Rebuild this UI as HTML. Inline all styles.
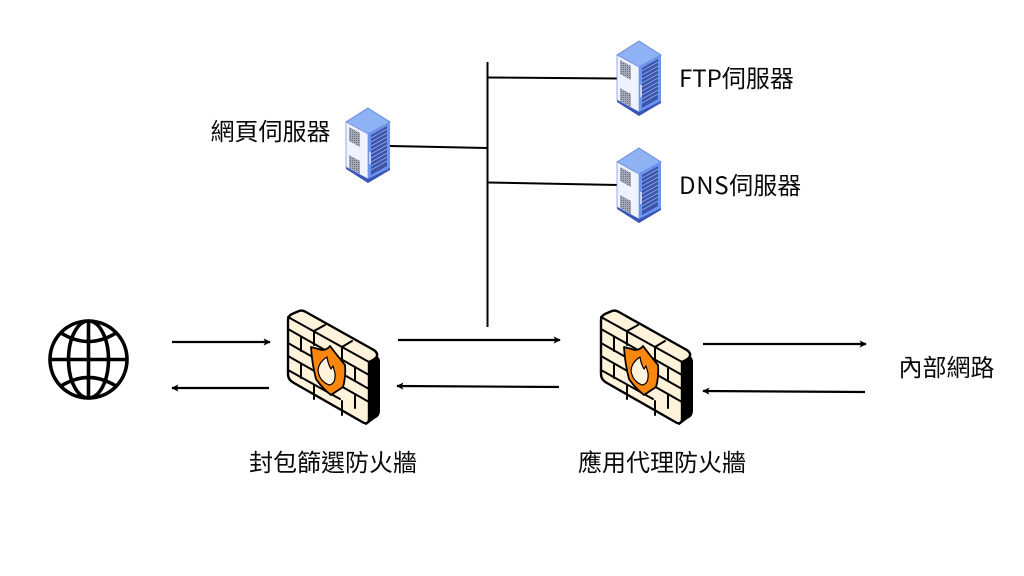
<!DOCTYPE html>
<html lang="zh-Hant">
<head>
<meta charset="utf-8">
<style>
html,body{margin:0;padding:0;background:#fff}
body{width:1024px;height:576px;overflow:hidden}
svg{display:block}
text{font-family:"Noto Sans CJK TC","Liberation Sans",sans-serif;font-size:24px;fill:#0a0a0a}
</style>
</head>
<body>
<svg width="1024" height="576" viewBox="0 0 1024 576" xmlns="http://www.w3.org/2000/svg">
<defs>
<pattern id="vent" width="2" height="2" patternUnits="userSpaceOnUse">
<rect width="2" height="2" fill="#a6a9b8"/><rect width="1" height="1" fill="#6a6e80"/>
</pattern>
<g id="server">
<polygon points="0,0 22,14 22,61 0,75 -22,59 -22,14" fill="#4d6dd0"/>
<polygon points="0,0 22,14 0,26 -22,14" fill="#8fb2f4" stroke="#6a8ade" stroke-width="1"/>
<polygon points="-22,14 0,26 0,71 -22,59" fill="#f0f3fd" stroke="#7f9be4" stroke-width="0.8"/>
<polygon points="-19,19 -8,25 -8,39 -19,33" fill="url(#vent)"/>
<polygon points="-19,47 -8,53 -8,66 -19,60" fill="url(#vent)"/>
<polygon points="0,26 22,14 22,60 0,72" fill="#6f94ec"/>
<polygon points="3,27 19,18 19,58 3,67" fill="#3b55ad"/>
<g stroke="#93acec" stroke-width="0.8">
<line x1="3" y1="30" x2="19" y2="21"/><line x1="3" y1="34" x2="19" y2="25"/>
<line x1="3" y1="38" x2="19" y2="29"/><line x1="3" y1="42" x2="19" y2="33"/>
<line x1="3" y1="46" x2="19" y2="37"/><line x1="3" y1="50" x2="19" y2="41"/>
<line x1="3" y1="54" x2="19" y2="45"/><line x1="3" y1="58" x2="19" y2="49"/>
<line x1="3" y1="62" x2="19" y2="53"/>
</g>
<line x1="2" y1="44" x2="2" y2="56" stroke="#e4eafb" stroke-width="1.4"/>
<polygon points="-22,59 0,71 22,60 22,62 0,75 -22,61" fill="#3a55b8"/>
</g>
<g id="wall" stroke-linejoin="round" stroke-linecap="round">
<path d="M367,362 L374,358 Q379,356 379,362 L379,411 Q379,416 374,418 L366,424 Z" fill="#000" stroke="#000" stroke-width="2"/>
<path d="M288,320 Q288,316 292,314 L299,311 Q302,310 305,311.500 L372,349 Q378,352 377,356 Q376,359 369,362 L369,419 Q369,424 364,423 L294,383 Q288,380 288,374 Z" fill="#fff3dc" stroke="#000" stroke-width="2.400"/>
<g fill="none" stroke="#000" stroke-width="2">
<path d="M288,317 L369,362"/>
<path d="M288,329 L369,375 M288,343 L369,389 M288,356 L369,402 M288,370 L340,399"/>
<path d="M314,331 L325,325 M342,347 L352,341"/>
<path d="M314,332 L314,345 M342,347 L342,360"/>
<path d="M301,337 L301,351 M355,367 L355,381"/>
<path d="M355,394 L355,408"/>
<path d="M301,364 L301,378"/>
<path d="M314,385 L314,399 M342,401 L342,415"/>
</g>
<path d="M311,347 L322,350 Q327,350 330,346 Q336,354 345,365 Q346,377 343,387 L331,395 Q322,388 316,379 Q312,364 311,347 Z" fill="#f9860f" stroke="#000" stroke-width="1.800"/>
<path d="M327,357 Q319,362 318,370 Q319,381 329,385 Q336,384 335,373 L333,366 L331,369 Q328,364 327,357 Z" fill="#fff3dc" stroke="#000" stroke-width="1.200"/>
</g>
<marker id="ah" viewBox="0 0 10 10" refX="9" refY="5" markerWidth="8" markerHeight="8" markerUnits="userSpaceOnUse" orient="auto"><path d="M1,0.500 L10,5 L1,9.500 L3,5 Z" fill="#000"/></marker>
</defs>

<g fill="none" stroke="#000" stroke-width="3.600">
<circle cx="88.500" cy="359.500" r="38.500"/>
<ellipse cx="88.500" cy="359.500" rx="20" ry="38.500"/>
<line x1="88.500" y1="321" x2="88.500" y2="398"/>
<line x1="50" y1="359.500" x2="127" y2="359.500"/>
<path d="M61,333 Q88.500,350 116,333"/>
<path d="M61,386 Q88.500,369 116,386"/>
</g>

<g stroke="#000" stroke-width="2" fill="none">
<line x1="487.500" y1="62" x2="487.500" y2="327"/>
<line x1="488" y1="77.500" x2="618" y2="78.500"/>
<line x1="390" y1="146" x2="487" y2="148"/>
<line x1="488" y1="182.500" x2="618" y2="185"/>
</g>

<g stroke="#000" stroke-width="2.200" fill="none">
<line x1="172" y1="342" x2="270" y2="342" marker-end="url(#ah)"/>
<line x1="269" y1="388" x2="172" y2="388" marker-end="url(#ah)"/>
<line x1="398" y1="340" x2="560" y2="340" marker-end="url(#ah)"/>
<line x1="559" y1="387" x2="397" y2="386" marker-end="url(#ah)"/>
<line x1="703" y1="344" x2="866" y2="344" marker-end="url(#ah)"/>
<line x1="865" y1="392" x2="703" y2="391" marker-end="url(#ah)"/>
</g>

<use href="#server" x="368" y="108"/>
<use href="#server" x="639" y="41"/>
<use href="#server" x="639" y="148"/>

<use href="#wall"/>
<use href="#wall" x="313" y="0"/>

<text x="210.500" y="140">網頁伺服器</text>
<text x="679" y="87">FTP伺服器</text>
<text x="679" y="194"><tspan letter-spacing="0.700">DNS</tspan>伺服器</text>
<text x="249" y="471">封包篩選防火牆</text>
<text x="578" y="471">應用代理防火牆</text>
<text x="898.500" y="376">內部網路</text>
</svg>
</body>
</html>
